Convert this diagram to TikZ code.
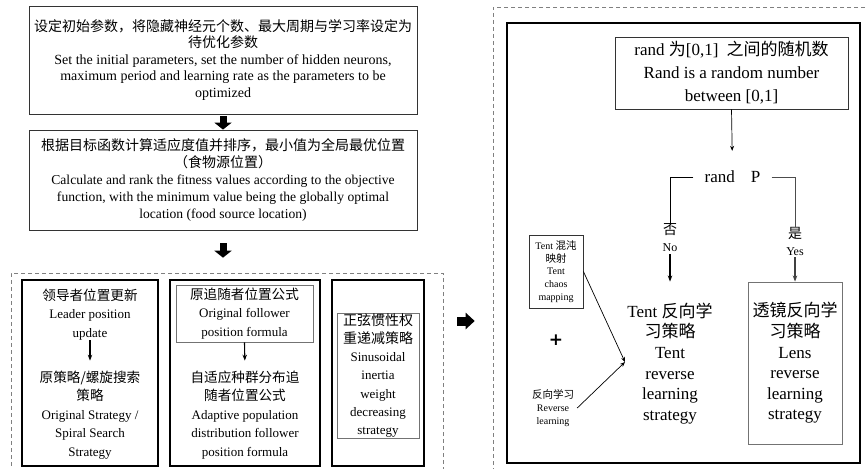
\documentclass[tikz,border=0pt]{standalone}
\usepackage{fontspec}
\setmainfont{Liberation Serif}
\newfontfamily\cjk{Noto Sans CJK SC}
\newfontfamily\dejavu{DejaVu Sans}
\usetikzlibrary{arrows.meta}
\newcommand\zh[2]{{\cjk\fontsize{#1}{#1}\selectfont #2}}
\begin{document}
\begin{tikzpicture}[x=1pt,y=-1pt,
  box/.style={draw=black!80,line width=0.8pt,inner sep=0pt},
  thickbox/.style={draw=black,line width=1.6pt,inner sep=0pt},
  graybox/.style={draw=black!55,line width=0.9pt,inner sep=0pt},
  dashbox/.style={draw=black!50,line width=0.6pt,dash pattern=on 4pt off 3pt,inner sep=0pt},
  txt/.style={align=center,inner sep=0pt},
  blk/.style={line width=7pt,-{Triangle[length=7pt,width=17pt]}},
  blkr/.style={line width=9pt,-{Triangle[length=9pt,width=16pt]}},
  thin/.style={line width=1.1pt,-{Stealth[length=6pt,width=4.5pt]}},
  thinr/.style={line width=0.7pt,-{Stealth[length=5pt,width=4pt]}},
]
\clip (0,0) rectangle (866,468);
\fill[white] (0,0) rectangle (866,468);

% dashed groups
\node[dashbox,minimum width=432pt,minimum height=207pt] (ldash) at (227,376.5) {};
\node[dashbox,minimum width=387pt,minimum height=473pt] (rdash) at (686.5,243.5) {};

% top boxes
\node[box,txt,minimum width=388pt,minimum height=108pt,font=\fontsize{14}{16.5}\selectfont] (b1) at (223,60)
 {\zh{14}{设定初始参数，将隐藏神经元个数、最大周期与学习率设定为}\\
  \zh{14}{待优化参数}\\
  Set the initial parameters, set the number of hidden neurons,\\
  maximum period and learning rate as the parameters to be\\
  optimized};
\node[box,txt,minimum width=388pt,minimum height=100pt,font=\fontsize{13.6}{17}\selectfont] (b2) at (223,180)
 {\zh{14}{根据目标函数计算适应度值并排序，最小值为全局最优位置}\\
  \zh{14}{（食物源位置）}\\
  Calculate and rank the fitness values according to the objective\\
  function, with the minimum value being the globally optimal\\
  location (food source location)};
\draw[blk,shorten <=2pt] (b1.south) -- (b2.north);
\draw[blk,shorten <=13pt,shorten >=15pt] (b2.south) -- (b2.south |- ldash.north);

% box A
\node[thickbox,minimum width=136pt,minimum height=186pt] (A) at (90,373) {};
\node[txt,font=\fontsize{13}{18.5}\selectfont] (A1) at (90,314.5)
 {\zh{13.6}{领导者位置更新}\\Leader position\\update};
\node[txt,font=\fontsize{13}{18.5}\selectfont] (A2) at (90,415)
 {\zh{13.6}{原策略/螺旋搜索}\\\zh{13.6}{策略}\\Original Strategy /\\Spiral Search\\Strategy};
\draw[thin,shorten >=10pt] (A1.south) -- (A2.north);

% box B
\node[thickbox,minimum width=150pt,minimum height=186pt] (B) at (245,373) {};
\node[graybox,txt,minimum width=137pt,minimum height=57pt,font=\fontsize{13}{18.5}\selectfont] (B1) at (244.5,313.5)
 {\zh{13.6}{原追随者位置公式}\\Original follower\\position formula};
\node[txt,font=\fontsize{13}{18.5}\selectfont] (B2) at (245,415)
 {\zh{13.6}{自适应种群分布追}\\\zh{13.6}{随者位置公式}\\Adaptive population\\distribution follower\\position formula};
\draw[thin,shorten >=10pt] (B1.south) -- (B2.north);

% box C
\node[thickbox,minimum width=92pt,minimum height=186pt] (C) at (378,373) {};
\node[graybox,txt,minimum width=82pt,minimum height=125pt,font=\fontsize{13}{18.2}\selectfont] (C1) at (378,375.5)
 {\zh{14}{正弦惯性权}\\\zh{14}{重递减策略}\\Sinusoidal\\inertia\\weight\\decreasing\\strategy};

% link arrow
\coordinate (ra) at (450,321);
\draw[blkr,shorten <=14pt,shorten >=18pt] (ldash.east |- ra) -- (rdash.west |- ra);

% right panel
\node[thickbox,minimum width=353pt,minimum height=440pt] (R) at (683.5,243) {};
\node[box,txt,minimum width=233pt,minimum height=72pt,font=\fontsize{17}{23}\selectfont] (rb) at (731.5,73)
 {rand \zh{17}{为}[0,1]\hspace{8pt}\zh{17}{之间的随机数}\\Rand is a random number\\between [0,1]};
\node[txt,inner xsep=11pt,font=\fontsize{17}{17}\selectfont] (cond) at (732.5,177) {rand\hspace{16pt}P};
\draw[thinr,shorten >=20pt] (rb.south) -- (cond.north);

\node[txt,font=\fontsize{12}{17}\selectfont] (no) at (670,238) {\zh{14}{否}\\No};
\node[txt,font=\fontsize{12}{17}\selectfont] (yes) at (795,241) {\zh{14}{是}\\Yes};
\draw[line width=1pt] (cond.west) -| (no.north);
\draw[line width=1pt,draw=black!70] (cond.east) -| (yes.north);

\node[graybox,txt,minimum width=94pt,minimum height=162pt,font=\fontsize{17}{20.6}\selectfont] (lens) at (795,363)
 {\zh{17}{透镜反向学}\\\zh{17}{习策略}\\Lens\\reverse\\learning\\strategy};
\node[txt,font=\fontsize{17}{20.6}\selectfont] (tent) at (670,363.5)
 {Tent \zh{17}{反向学}\\\zh{17}{习策略}\\Tent\\reverse\\learning\\strategy};
\draw[thin,shorten <=2pt] (no.south) -- (no.south |- lens.north);
\draw[thin,shorten <=2pt,draw=black!75] (yes.south) -- (lens.north);

\node[box,txt,minimum width=54pt,minimum height=73pt,font=\fontsize{10}{12.8}\selectfont] (chaos) at (556,271.5)
 {Tent \zh{10.5}{混沌}\\\zh{10.5}{映射}\\Tent\\chaos\\mapping};
\node[font=\dejavu\bfseries\fontsize{17}{17}\selectfont,inner sep=0pt] (plus) at (556,340) {+};
\node[txt,inner xsep=3pt,font=\fontsize{10}{12.8}\selectfont] (rev) at (553,408)
 {\zh{10.5}{反向学习}\\Reverse\\learning};
\coordinate (tip) at (625,362);
\draw[thinr] (chaos.east) -- (tip);
\draw[thinr] (rev.east) -- (tip);
\end{tikzpicture}
\end{document}
